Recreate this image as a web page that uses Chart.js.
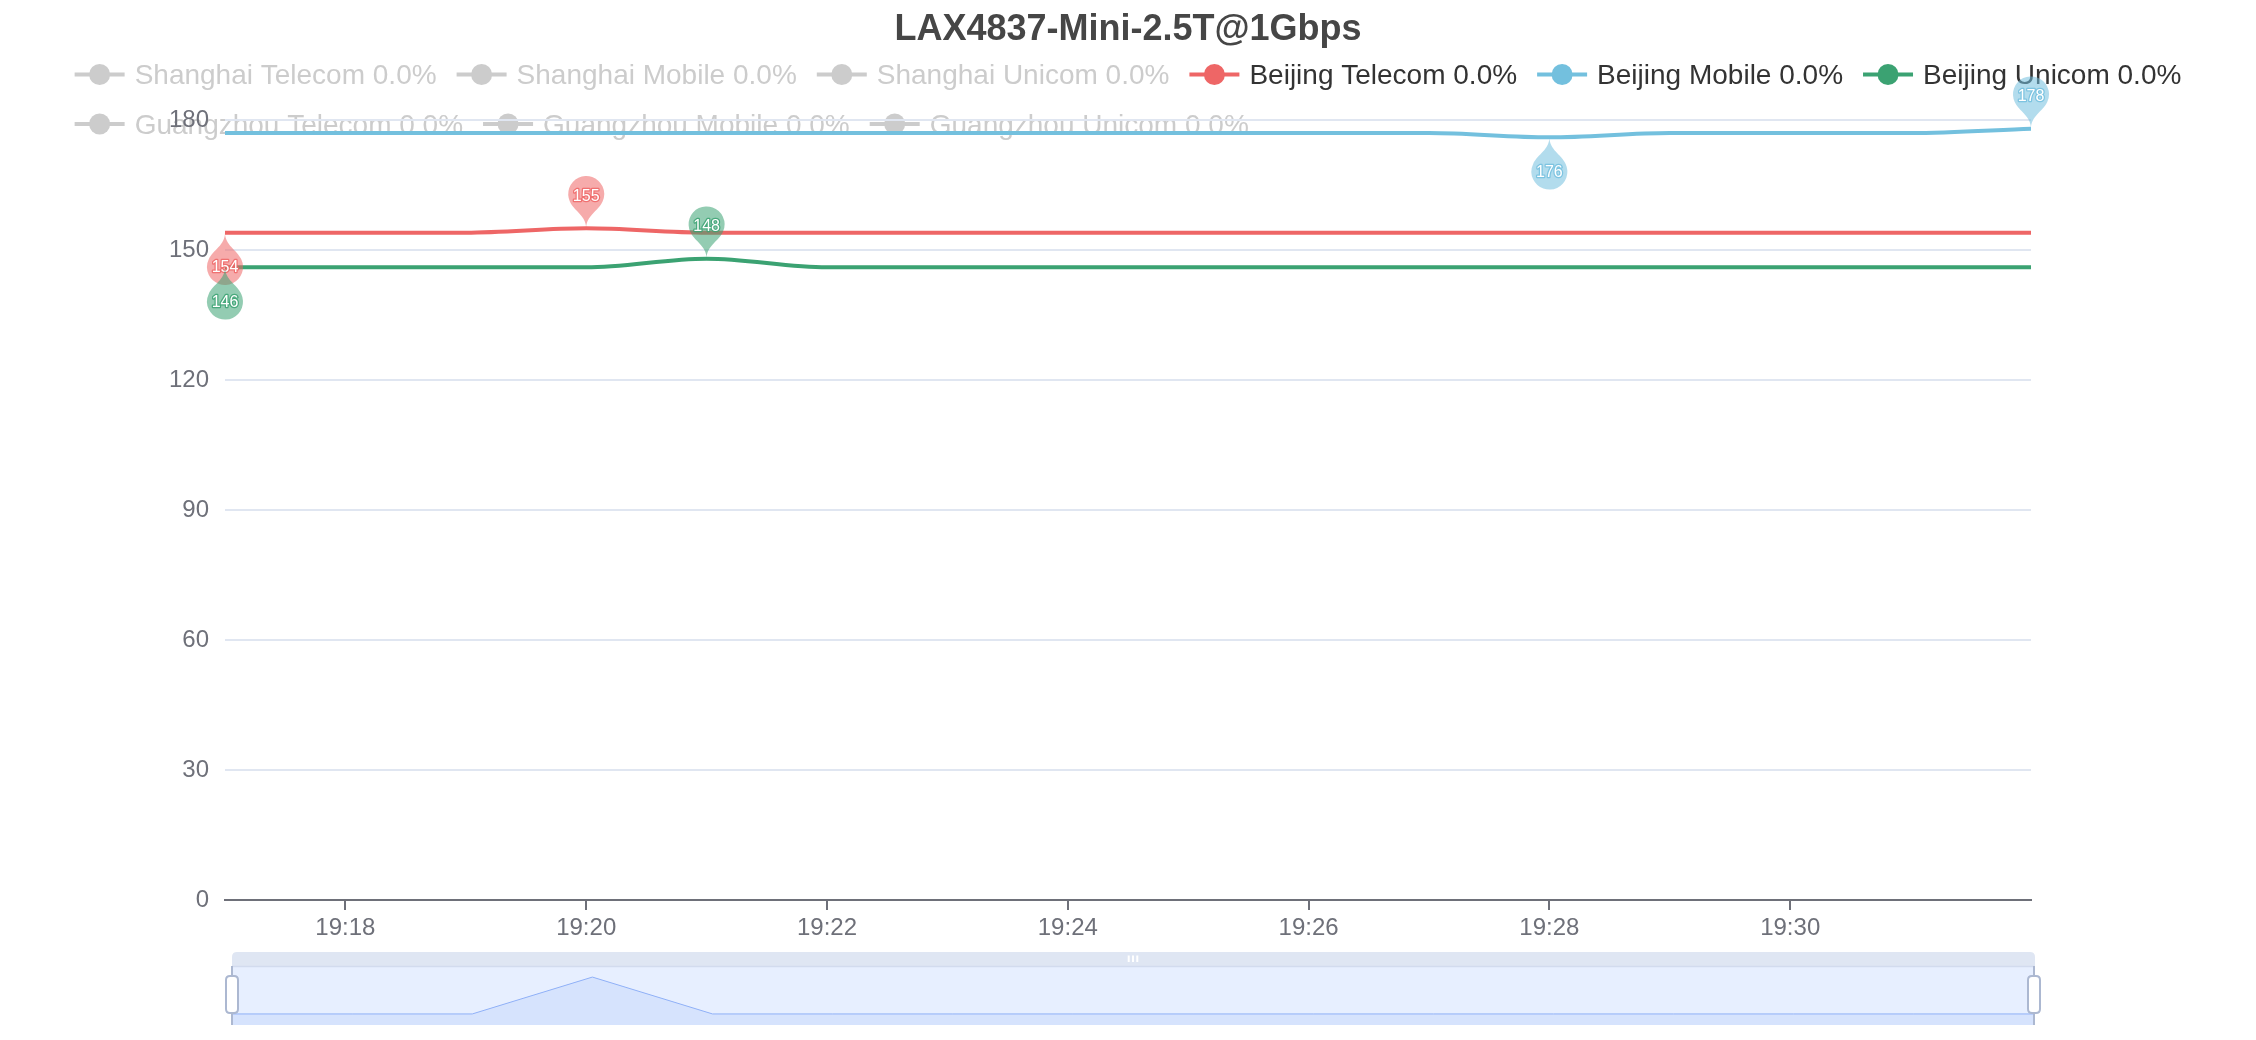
<!DOCTYPE html>
<html>
<head>
<meta charset="utf-8">
<script src="https://cdn.jsdelivr.net/npm/chart.js@4.4.1/dist/chart.umd.min.js"></script>
<style>
html,body{margin:0;padding:0;background:#fff;}
#wrap{position:relative;width:2256px;height:1040px;overflow:hidden;}
#wrap canvas{position:absolute;left:0;top:0;}
</style>
</head>
<body>
<div id="wrap">
  <canvas id="main" width="2256" height="1040"></canvas>
  <canvas id="zoom" width="2256" height="1040"></canvas>
</div>
<script>
// ---------------- data ----------------
const chartTitle = 'LAX4837-Mini-2.5T@1Gbps';
const times = ['19:17','19:18','19:19','19:20','19:21','19:22','19:23','19:24',
               '19:25','19:26','19:27','19:28','19:29','19:30','19:31','19:32'];
const seriesNames = ['Shanghai Telecom 0.0%','Shanghai Mobile 0.0%','Shanghai Unicom 0.0%',
                     'Beijing Telecom 0.0%','Beijing Mobile 0.0%','Beijing Unicom 0.0%',
                     'Guangzhou Telecom 0.0%','Guangzhou Mobile 0.0%','Guangzhou Unicom 0.0%'];
const seriesColors = ['#5470c6','#91cc75','#fac858','#ee6666','#73c0de','#3ba272','#fc8452','#9a60b4','#ea7ccc'];
const seriesHidden = [true,true,true,false,false,false,true,true,true];
const beijingTelecom = [154,154,154,155,154,154,154,154,154,154,154,154,154,154,154,154];
const beijingMobile  = [177,177,177,177,177,177,177,177,177,177,177,176,177,177,177,178];
const beijingUnicom  = [146,146,146,146,148,146,146,146,146,146,146,146,146,146,146,146];
const seriesValues = [[],[],[],beijingTelecom,beijingMobile,beijingUnicom,[],[],[]];
const yTickValues = [0,30,60,90,120,150,180];
const xTickLabels = ['19:18','19:20','19:22','19:24','19:26','19:28','19:30'];
const previewValues = beijingTelecom;

// ---------------- helpers ----------------
const FONT = '"Liberation Sans", Arial, Helvetica, sans-serif';
Chart.defaults.font.family = FONT;
const toMin = s => { const p = s.split(':').map(Number); return p[0]*60 + p[1]; };
const fmtMin = v => Math.floor(v/60) + ':' + String(Math.round(v % 60)).padStart(2,'0');
function hexA(hex, a){
  const n = parseInt(hex.slice(1),16);
  return `rgba(${(n>>16)&255},${(n>>8)&255},${n&255},${a})`;
}

function pinPath(ctx, S){ // ECharts pin, tip at (0,0), body upward
  const w = S*3/5, h = Math.max(w,S), r = w/2;
  const dy = r*r/(h-r);
  const cy = -h + r + dy;
  const angle = Math.asin(dy/r);
  const dx = Math.cos(angle)*r;
  const tanX = Math.sin(angle), tanY = Math.cos(angle);
  const cpLen = r*0.6, cpLen2 = r*0.7;
  ctx.beginPath();
  ctx.moveTo(-dx, cy+dy);
  ctx.arc(0, cy, r, Math.PI - angle, Math.PI*2 + angle);
  ctx.bezierCurveTo(dx - tanX*cpLen, cy+dy+tanY*cpLen, 0, -cpLen2, 0, 0);
  ctx.bezierCurveTo(0, -cpLen2, -dx + tanX*cpLen, cy+dy+tanY*cpLen, -dx, cy+dy);
  ctx.closePath();
}

const decor = {
  id: 'decor',
  beforeDraw(chart){
    const ctx = chart.ctx;
    ctx.save();
    ctx.fillStyle = '#ffffff';
    ctx.fillRect(0,0,chart.width,chart.height);
    // title
    ctx.font = 'bold 36px ' + FONT;
    ctx.fillStyle = '#464646';
    ctx.textAlign = 'center';
    ctx.textBaseline = 'alphabetic';
    ctx.fillText(chartTitle, chart.width/2, 39.5);
    // legend
    ctx.font = '28px ' + FONT;
    const items = chart.data.datasets.map((d,i)=>({label:d.label, color:seriesColors[i], on: chart.isDatasetVisible(i)}));
    const iconW = 50, textGap = 10, itemGap = 20, maxW = chart.width - 40;
    items.forEach(it => it.w = iconW + textGap + ctx.measureText(it.label).width);
    const rows = [[]], rowW = [0];
    for (const it of items){
      const r = rows.length-1;
      const add = (rows[r].length ? itemGap : 0) + it.w;
      if (rows[r].length && rowW[r] + add > maxW){ rows.push([it]); rowW.push(it.w); }
      else { rows[r].push(it); rowW[r] += add; }
    }
    const x0 = (chart.width - Math.max(...rowW))/2;
    ctx.textAlign = 'left';
    rows.forEach((row, ri) => {
      let x = x0;
      const cy = 74.5 + ri*49.5, base = 84 + ri*49.5;
      row.forEach(it => {
        const c = it.on ? it.color : '#cccccc';
        ctx.strokeStyle = c; ctx.lineWidth = 4;
        ctx.beginPath(); ctx.moveTo(x, cy); ctx.lineTo(x+iconW, cy); ctx.stroke();
        ctx.fillStyle = c;
        ctx.beginPath(); ctx.arc(x+iconW/2, cy, 10.5, 0, Math.PI*2); ctx.fill();
        ctx.fillStyle = it.on ? '#333333' : '#cccccc';
        ctx.fillText(it.label, x+iconW+textGap, base);
        x += it.w + itemGap;
      });
    });
    ctx.restore();
  },
  afterDatasetsDraw(chart){
    const ctx = chart.ctx;
    const xs = chart.scales.x, ys = chart.scales.y;
    const S = 60;
    ctx.save();
    chart.data.datasets.forEach((d,i) => {
      if (!chart.isDatasetVisible(i)) return;
      const vals = seriesValues[i];
      if (!vals.length) return;
      let iMax = 0, iMin = 0;
      vals.forEach((v,k) => { if (v > vals[iMax]) iMax = k; if (v < vals[iMin]) iMin = k; });
      [[iMax,false],[iMin,true]].forEach(([k,flip]) => {
        const tx = xs.getPixelForValue(toMin(times[k]));
        const ty = ys.getPixelForValue(vals[k]);
        ctx.save();
        ctx.translate(tx, ty);
        if (flip) ctx.rotate(Math.PI);
        pinPath(ctx, S);
        ctx.fillStyle = hexA(seriesColors[i], 0.55);
        ctx.fill();
        ctx.restore();
        const ly = flip ? ty + 35 : ty - 32;
        ctx.font = '16px ' + FONT;
        ctx.textAlign = 'center';
        ctx.textBaseline = 'middle';
        ctx.lineJoin = 'round';
        ctx.lineWidth = 2.5;
        ctx.strokeStyle = hexA(seriesColors[i], 0.85);
        ctx.strokeText(String(vals[k]), tx, ly);
        ctx.fillStyle = '#ffffff';
        ctx.fillText(String(vals[k]), tx, ly);
      });
    });
    ctx.restore();
  }
};

const datasets = seriesNames.map((name,i) => ({
  label: name,
  data: seriesValues[i].map((v,k) => ({x: toMin(times[k]), y: v})),
  borderColor: seriesColors[i],
  backgroundColor: seriesColors[i],
  borderWidth: 4,
  pointRadius: 0,
  pointHoverRadius: 0,
  cubicInterpolationMode: 'monotone',
  fill: false,
  hidden: seriesHidden[i]
}));

const tMin = toMin(times[0]), tMax = toMin(times[times.length-1]);

new Chart(document.getElementById('main'), {
  type: 'line',
  data: { datasets },
  options: {
    responsive: false,
    animation: false,
    devicePixelRatio: 1,
    events: [],
    layout: { padding: { top: 120, right: 225, bottom: 100, left: 0 } },
    scales: {
      x: {
        type: 'linear', min: tMin, max: tMax,
        afterBuildTicks: s => { s.ticks = xTickLabels.map(t => ({value: toMin(t)})); },
        afterFit: s => { s.height = 40; },
        ticks: { callback: v => fmtMin(v), color: '#6E7079', font: {size: 24}, padding: 4, maxRotation: 0, autoSkip: false },
        grid: { drawOnChartArea: false, drawTicks: true, tickLength: 10, color: '#6E7079', lineWidth: 2 },
        border: { display: true, color: '#6E7079', width: 2 }
      },
      y: {
        type: 'linear', min: 0, max: 180,
        afterBuildTicks: s => { s.ticks = yTickValues.map(v => ({value: v})); },
        afterFit: s => { s.width = 225; },
        ticks: { color: '#6E7079', font: {size: 24}, padding: 16 },
        grid: { color: '#E0E6F1', lineWidth: 2, drawTicks: false },
        border: { display: false }
      }
    },
    plugins: { legend: {display: false}, title: {display: false}, tooltip: {enabled: false} }
  },
  plugins: [decor]
});

// ---------------- dataZoom slider preview ----------------
const pMin = Math.min(...previewValues), pMax = Math.max(...previewValues);
const pOff = (pMax - pMin) * 0.3;

function rr(ctx, x, y, w, h, r){
  ctx.beginPath();
  ctx.moveTo(x+r[0], y);
  ctx.lineTo(x+w-r[1], y); ctx.quadraticCurveTo(x+w, y, x+w, y+r[1]);
  ctx.lineTo(x+w, y+h-r[2]); ctx.quadraticCurveTo(x+w, y+h, x+w-r[2], y+h);
  ctx.lineTo(x+r[3], y+h); ctx.quadraticCurveTo(x, y+h, x, y+h-r[3]);
  ctx.lineTo(x, y+r[0]); ctx.quadraticCurveTo(x, y, x+r[0], y);
  ctx.closePath();
}

const sliderDecor = {
  id: 'sliderDecor',
  beforeDatasetsDraw(chart){
    const ctx = chart.ctx, a = chart.chartArea;
    ctx.save();
    rr(ctx, a.left, a.top-14, a.right-a.left+1, 14, [5,5,0,0]);
    ctx.fillStyle = 'rgba(210,219,238,0.7)';
    ctx.fill();
    ctx.fillStyle = 'rgba(135,175,255,0.2)';
    ctx.fillRect(a.left, a.top, a.right-a.left, a.bottom-a.top);
    ctx.strokeStyle = '#D2DBEE'; ctx.lineWidth = 1.5;
    ctx.beginPath(); ctx.moveTo(a.left, a.top+0.5); ctx.lineTo(a.right, a.top+0.5); ctx.stroke();
    ctx.restore();
  },
  afterDraw(chart){
    const ctx = chart.ctx, a = chart.chartArea;
    ctx.save();
    [a.left, a.right].forEach(x => {
      ctx.strokeStyle = '#ACB8D1'; ctx.lineWidth = 2;
      ctx.beginPath(); ctx.moveTo(x, a.top); ctx.lineTo(x, a.bottom); ctx.stroke();
      rr(ctx, x-6, a.top+10, 12, 37, [4,4,4,4]);
      ctx.fillStyle = '#ffffff'; ctx.fill();
      ctx.stroke();
    });
    const cx = (a.left + a.right)/2;
    ctx.fillStyle = '#ffffff';
    [-4.3, 0, 4.3].forEach(o => ctx.fillRect(cx + o - 1, a.top - 10.5, 2, 6.5));
    ctx.restore();
  }
};

new Chart(document.getElementById('zoom'), {
  type: 'line',
  data: { datasets: [{
    data: previewValues.map((v,k) => ({x: toMin(times[k]), y: v})),
    borderColor: '#8fb0f7', borderWidth: 1,
    backgroundColor: 'rgba(143,176,247,0.2)',
    fill: 'start', pointRadius: 0, tension: 0
  }]},
  options: {
    responsive: false, animation: false, devicePixelRatio: 1, events: [],
    layout: { padding: { left: 232, right: 222, top: 966, bottom: 15 } },
    scales: {
      x: { type: 'linear', display: false, min: tMin, max: tMax },
      y: { type: 'linear', display: false, min: pMin - pOff, max: pMax + pOff }
    },
    plugins: { legend: {display: false}, tooltip: {enabled: false}, title: {display: false} }
  },
  plugins: [sliderDecor]
});
</script>
</body>
</html>
